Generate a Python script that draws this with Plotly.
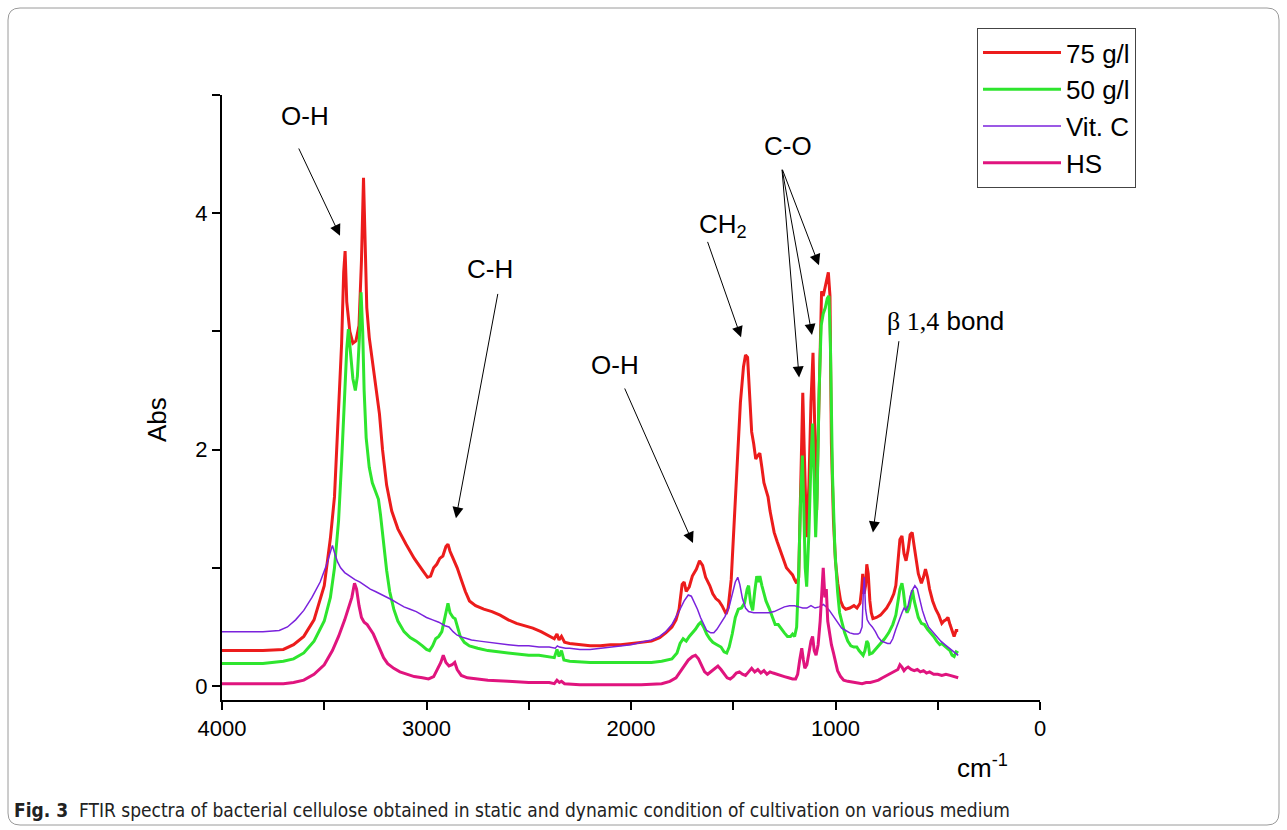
import plotly.graph_objects as go

# ---------------- data ----------------
red_wn = [4000,3900,3800,3700,3650,3600,3550,3500,3470,3450,3430,3415,3405,3398,3390,3375,3360,3345,3330,3318,3308,3300,3292,3280,3260,3245,3230,3215,3195,3170,3140,3100,3060,3020,2995,2980,2965,2950,2935,2920,2905,2895,2885,2870,2850,2830,2810,2790,2760,2720,2680,2640,2600,2560,2520,2480,2440,2400,2375,2362,2352,2340,2325,2300,2250,2200,2150,2100,2050,2000,1950,1900,1860,1830,1800,1780,1765,1750,1740,1730,1715,1700,1680,1665,1650,1635,1615,1600,1585,1570,1555,1545,1535,1525,1510,1495,1480,1465,1450,1440,1430,1420,1410,1400,1390,1380,1370,1360,1350,1340,1330,1320,1310,1300,1285,1270,1255,1240,1225,1210,1200,1190,1180,1172,1160,1153,1147,1141,1130,1120,1110,1103,1097,1092,1085,1075,1068,1060,1050,1040,1035,1027,1020,1010,1000,989,975,963,950,930,910,895,880,872,867,860,853,847,840,832,825,817,800,780,765,750,730,715,705,695,685,675,665,655,645,635,625,615,605,595,580,570,560,550,540,525,510,495,480,470,460,450,440,430,420,410,400]
red_abs = [0.30,0.30,0.30,0.31,0.35,0.42,0.56,0.85,1.25,1.60,2.30,2.90,3.50,3.68,3.25,3.00,2.90,2.92,3.05,3.60,4.30,3.80,3.20,2.95,2.70,2.52,2.30,2.00,1.70,1.48,1.33,1.20,1.08,0.98,0.92,0.93,1.00,1.03,1.08,1.10,1.18,1.20,1.14,1.08,1.00,0.90,0.80,0.72,0.68,0.65,0.63,0.60,0.56,0.53,0.51,0.49,0.46,0.42,0.40,0.44,0.39,0.42,0.37,0.36,0.35,0.34,0.34,0.35,0.35,0.36,0.37,0.38,0.41,0.45,0.50,0.56,0.65,0.86,0.88,0.80,0.84,0.93,0.99,1.06,1.02,0.92,0.85,0.78,0.74,0.72,0.68,0.64,0.61,0.66,0.90,1.40,1.95,2.40,2.70,2.80,2.78,2.40,2.15,2.05,1.92,1.95,1.97,1.85,1.72,1.66,1.60,1.48,1.40,1.30,1.22,1.15,1.08,1.00,0.97,0.94,0.90,0.87,0.92,1.60,2.48,2.00,1.50,1.26,1.70,2.40,2.82,2.30,1.70,1.49,2.10,3.00,3.34,3.30,3.38,3.45,3.50,3.30,2.05,1.40,1.05,0.87,0.72,0.67,0.65,0.66,0.68,0.66,0.70,0.82,0.95,0.78,0.85,1.03,0.95,0.72,0.62,0.57,0.58,0.60,0.63,0.66,0.72,0.78,0.85,1.05,1.24,1.27,1.12,1.06,1.15,1.28,1.30,1.18,1.05,0.95,0.87,0.92,0.99,0.92,0.82,0.72,0.65,0.60,0.53,0.55,0.56,0.58,0.52,0.46,0.42,0.47,0.47]

green_wn = [4000,3900,3800,3700,3650,3600,3550,3500,3470,3450,3430,3415,3400,3390,3382,3372,3360,3348,3338,3328,3320,3312,3305,3295,3280,3265,3250,3235,3225,3210,3195,3180,3160,3140,3110,3080,3050,3020,3000,2985,2970,2955,2940,2925,2910,2900,2895,2885,2870,2860,2850,2835,2815,2790,2750,2700,2650,2600,2550,2500,2450,2400,2375,2362,2352,2340,2328,2300,2200,2100,2000,1900,1850,1800,1775,1760,1745,1730,1715,1700,1685,1670,1658,1645,1630,1615,1600,1580,1560,1545,1532,1520,1505,1490,1475,1460,1445,1432,1425,1415,1405,1395,1385,1378,1370,1360,1350,1340,1325,1310,1295,1280,1265,1250,1235,1220,1210,1200,1190,1180,1172,1162,1155,1148,1141,1130,1120,1112,1105,1097,1090,1080,1070,1060,1050,1040,1032,1025,1015,1003,990,980,970,955,940,925,910,896,885,875,865,856,847,840,833,820,800,780,760,740,720,705,695,685,675,668,660,650,640,630,624,615,605,595,580,565,550,535,520,505,490,480,465,450,440,430,420,410,400]
green_abs = [0.19,0.19,0.19,0.21,0.23,0.28,0.38,0.55,0.75,1.00,1.40,1.90,2.50,2.85,3.02,2.80,2.60,2.50,2.62,2.95,3.33,3.00,2.50,2.10,1.85,1.72,1.64,1.58,1.45,1.20,0.98,0.80,0.65,0.55,0.46,0.41,0.38,0.34,0.31,0.30,0.34,0.40,0.42,0.46,0.58,0.66,0.70,0.62,0.58,0.57,0.50,0.42,0.37,0.34,0.32,0.30,0.29,0.28,0.27,0.26,0.26,0.25,0.24,0.31,0.25,0.30,0.22,0.21,0.20,0.20,0.20,0.20,0.21,0.23,0.28,0.36,0.40,0.38,0.42,0.45,0.48,0.52,0.54,0.50,0.44,0.40,0.37,0.35,0.33,0.29,0.28,0.33,0.44,0.58,0.65,0.66,0.70,0.82,0.85,0.70,0.64,0.80,0.93,0.88,0.93,0.85,0.78,0.72,0.66,0.58,0.52,0.52,0.48,0.45,0.42,0.42,0.44,0.42,0.50,0.95,1.50,1.95,1.50,1.00,0.84,1.30,1.90,2.22,1.80,1.26,1.60,2.50,3.05,3.15,3.20,3.28,3.30,2.90,1.80,1.15,0.80,0.62,0.55,0.45,0.38,0.34,0.33,0.33,0.30,0.28,0.26,0.30,0.38,0.36,0.27,0.28,0.32,0.36,0.40,0.45,0.52,0.60,0.70,0.82,0.87,0.80,0.68,0.62,0.66,0.78,0.81,0.72,0.64,0.58,0.53,0.52,0.48,0.45,0.42,0.38,0.35,0.36,0.34,0.32,0.30,0.26,0.25,0.29,0.28]

vitc_wn = [4000,3900,3800,3720,3680,3640,3600,3560,3520,3490,3470,3460,3450,3435,3420,3400,3375,3350,3325,3300,3275,3250,3225,3200,3170,3140,3110,3080,3050,3020,3000,2970,2940,2910,2890,2870,2850,2820,2780,2740,2700,2650,2600,2550,2500,2450,2400,2370,2360,2350,2320,2300,2250,2200,2150,2100,2050,2000,1950,1900,1860,1830,1800,1780,1760,1740,1720,1705,1690,1675,1660,1645,1630,1610,1595,1580,1560,1540,1520,1505,1490,1478,1468,1455,1440,1425,1400,1375,1350,1325,1300,1275,1250,1225,1200,1180,1160,1140,1120,1100,1080,1060,1045,1030,1015,1000,985,970,950,930,910,890,880,870,864,859,853,845,835,820,805,790,775,760,745,733,720,705,690,675,665,655,645,635,625,612,600,590,575,560,545,525,505,485,465,445,425,410,400]
vitc_abs = [0.46,0.46,0.46,0.47,0.50,0.56,0.64,0.75,0.88,1.02,1.14,1.19,1.13,1.05,1.00,0.96,0.93,0.90,0.88,0.85,0.82,0.80,0.78,0.76,0.73,0.70,0.67,0.65,0.63,0.60,0.58,0.56,0.54,0.51,0.50,0.46,0.43,0.41,0.39,0.38,0.37,0.36,0.35,0.34,0.34,0.33,0.33,0.32,0.34,0.33,0.32,0.32,0.31,0.31,0.32,0.33,0.34,0.35,0.37,0.39,0.42,0.46,0.52,0.58,0.65,0.72,0.77,0.76,0.71,0.65,0.58,0.52,0.47,0.45,0.45,0.48,0.53,0.59,0.67,0.78,0.88,0.92,0.86,0.74,0.66,0.63,0.62,0.62,0.62,0.62,0.63,0.65,0.67,0.68,0.68,0.67,0.66,0.66,0.68,0.66,0.67,0.69,0.67,0.64,0.60,0.56,0.52,0.49,0.47,0.45,0.44,0.44,0.45,0.50,0.80,0.92,0.65,0.56,0.53,0.50,0.46,0.41,0.38,0.37,0.36,0.36,0.40,0.48,0.56,0.62,0.66,0.64,0.68,0.76,0.81,0.85,0.82,0.74,0.64,0.56,0.50,0.46,0.42,0.38,0.35,0.32,0.29,0.27,0.26]

hs_wn = [4000,3900,3800,3700,3650,3600,3550,3500,3460,3430,3400,3380,3365,3352,3342,3330,3318,3305,3290,3275,3260,3245,3230,3210,3190,3160,3130,3100,3060,3020,2990,2965,2945,2930,2918,2905,2890,2875,2862,2850,2830,2800,2750,2700,2600,2500,2400,2375,2362,2350,2340,2325,2250,2150,2050,1950,1850,1810,1780,1760,1740,1720,1700,1685,1670,1655,1640,1625,1610,1590,1575,1560,1545,1530,1515,1500,1485,1470,1455,1440,1425,1410,1395,1380,1365,1350,1335,1320,1305,1290,1270,1250,1230,1210,1195,1185,1175,1165,1157,1150,1140,1128,1120,1112,1104,1095,1085,1075,1068,1060,1052,1045,1038,1030,1020,1010,1000,990,975,960,940,900,870,850,830,810,790,770,750,730,710,695,685,675,665,655,645,630,615,600,585,570,555,540,520,500,480,460,440,420,400]
hs_abs = [0.02,0.02,0.02,0.02,0.03,0.05,0.10,0.18,0.30,0.42,0.56,0.66,0.75,0.87,0.82,0.68,0.58,0.54,0.52,0.48,0.44,0.38,0.32,0.24,0.19,0.15,0.12,0.10,0.08,0.07,0.06,0.08,0.15,0.20,0.26,0.20,0.17,0.18,0.20,0.14,0.09,0.07,0.06,0.05,0.04,0.03,0.03,0.02,0.05,0.03,0.04,0.02,0.01,0.01,0.01,0.01,0.02,0.04,0.07,0.12,0.17,0.22,0.25,0.26,0.23,0.17,0.12,0.10,0.12,0.15,0.17,0.14,0.10,0.07,0.06,0.08,0.11,0.12,0.10,0.09,0.12,0.15,0.12,0.14,0.11,0.13,0.10,0.12,0.11,0.10,0.09,0.08,0.07,0.06,0.06,0.10,0.22,0.32,0.22,0.15,0.18,0.30,0.38,0.42,0.30,0.26,0.35,0.55,0.80,1.00,0.75,0.82,0.55,0.45,0.35,0.28,0.20,0.13,0.08,0.05,0.04,0.03,0.02,0.03,0.03,0.04,0.05,0.07,0.09,0.11,0.13,0.14,0.18,0.16,0.13,0.15,0.16,0.14,0.13,0.14,0.12,0.13,0.11,0.12,0.10,0.10,0.09,0.10,0.09,0.08,0.07]

series_names = ["75 g/l", "50 g/l", "Vit. C", "HS"]
x_tick_vals = [4000, 3500, 3000, 2500, 2000, 1500, 1000, 500, 0]
x_tick_text = ["4000", "", "3000", "", "2000", "", "1000", "", "0"]
y_tick_vals = [0, 1, 2, 3, 4, 5]
y_tick_text = ["0", "", "2", "", "4", ""]

# ---------------- figure ----------------
SANS = "Liberation Sans, Arial, sans-serif"
colors = ["#EC1C1C", "#2EE52E", "#7A22DC", "#E0147E"]
widths = [3, 3, 1.5, 3]
xs = [red_wn, green_wn, vitc_wn, hs_wn]
ys = [red_abs, green_abs, vitc_abs, hs_abs]

fig = go.Figure()
for i in range(4):
    fig.add_trace(go.Scatter(
        x=xs[i], y=ys[i], mode="lines", name=series_names[i],
        legendgroup=series_names[i],
        line=dict(color=colors[i], width=widths[i]),
    ))

L, T, W, H = 222, 95, 818, 605
def px(x):  # pixel -> paper x (decoration only)
    return (x - L) / W
def py(y):
    return (T + H - y) / H

# rounded outer frame
x0, x1, y0, y1, r = 8, 1279, 8, 825, 12
path = (f"M {px(x0)},{py(y0 + r)} Q {px(x0)},{py(y0)} {px(x0 + r)},{py(y0)} "
        f"L {px(x1 - r)},{py(y0)} Q {px(x1)},{py(y0)} {px(x1)},{py(y0 + r)} "
        f"L {px(x1)},{py(y1 - r)} Q {px(x1)},{py(y1)} {px(x1 - r)},{py(y1)} "
        f"L {px(x0 + r)},{py(y1)} Q {px(x0)},{py(y1)} {px(x0)},{py(y1 - r)} Z")
fig.add_shape(type="path", path=path, xref="paper", yref="paper",
              line=dict(color="#9a9a9a", width=1), layer="below")

ann_font = dict(family=SANS, size=26, color="black")
arrows = [  # (tail_x, tail_y, tip_x, tip_y) in data units
    (3628, 4.56, 3423, 3.81),
    (2650, 3.33, 2856, 1.42),
    (2034, 2.53, 1697, 1.21),
    (1628, 3.77, 1462, 2.95),
    (1262, 4.38, 1081, 3.56),
    (1262, 4.38, 1115, 2.97),
    (1262, 4.38, 1178, 2.61),
    (689, 2.93, 817, 1.30),
]
for ax_, ay_, x_, y_ in arrows:
    fig.add_annotation(x=x_, y=y_, ax=ax_, ay=ay_, xref="x", yref="y",
                       axref="x", ayref="y", text="", showarrow=True,
                       arrowhead=2, arrowsize=2.2, arrowwidth=1,
                       arrowcolor="black", standoff=0, startstandoff=0)

labels = [
    (3594, 4.82, "O-H", "center"),
    (2689, 3.53, "C-H", "center"),
    (2078, 2.72, "O-H", "center"),
    (1550, 3.90, "CH<sub>2</sub>", "center"),
    (1232, 4.57, "C-O", "center"),
    (760, 3.09, "<span style='font-family:Liberation Serif, Times New Roman, serif'>β 1,4</span> bond", "left"),
]
for x_, y_, t, anc in labels:
    fig.add_annotation(x=x_, y=y_, xref="x", yref="y", text=t, showarrow=False,
                       font=ann_font, xanchor=anc, yanchor="middle")

fig.add_annotation(x=px(140), y=py(420), xref="paper", yref="paper", text="Abs",
                   textangle=-90, showarrow=False, font=dict(family=SANS, size=26, color="black"))
fig.add_annotation(x=px(1010), y=py(785), xref="paper", yref="paper", text="cm<sup>-1</sup>",
                   showarrow=False, font=dict(family=SANS, size=26, color="black"))
fig.add_annotation(x=px(12), y=py(810), xref="paper", yref="paper", xanchor="left", yanchor="middle",
                   text="<b>Fig. 3</b>  FTIR spectra of bacterial cellulose obtained in static and dynamic condition of cultivation on various medium",
                   showarrow=False,
                   font=dict(family="Liberation Sans Narrow, Arial Narrow, DejaVu Sans Condensed, sans-serif",
                             size=19, color="#222"))

fig.update_layout(
    width=1287, height=830,
    margin=dict(l=L, r=1287 - L - W, t=T, b=830 - T - H),
    paper_bgcolor="white", plot_bgcolor="white",
    font=dict(family=SANS, color="black"),
    showlegend=True,
    legend=dict(x=px(977), y=py(28), xanchor="left", yanchor="top",
                bordercolor="#444", borderwidth=1, bgcolor="white",
                font=dict(family=SANS, size=26, color="black"),
                tracegroupgap=0, itemwidth=78, traceorder="grouped"),
    xaxis=dict(range=[4000, 0], showgrid=False, zeroline=False, showline=True,
               linecolor="black", linewidth=2, ticks="outside", ticklen=8,
               tickwidth=1.5, tickcolor="black", tickvals=x_tick_vals,
               ticktext=x_tick_text, tickfont=dict(family=SANS, size=22, color="black")),
    yaxis=dict(range=[-0.118, 5.0], showgrid=False, zeroline=False, showline=True,
               linecolor="black", linewidth=2, ticks="outside", ticklen=8,
               tickwidth=1.5, tickcolor="black", tickvals=y_tick_vals,
               ticktext=y_tick_text, tickfont=dict(family=SANS, size=22, color="black")),
)

fig.write_html("out.html")
